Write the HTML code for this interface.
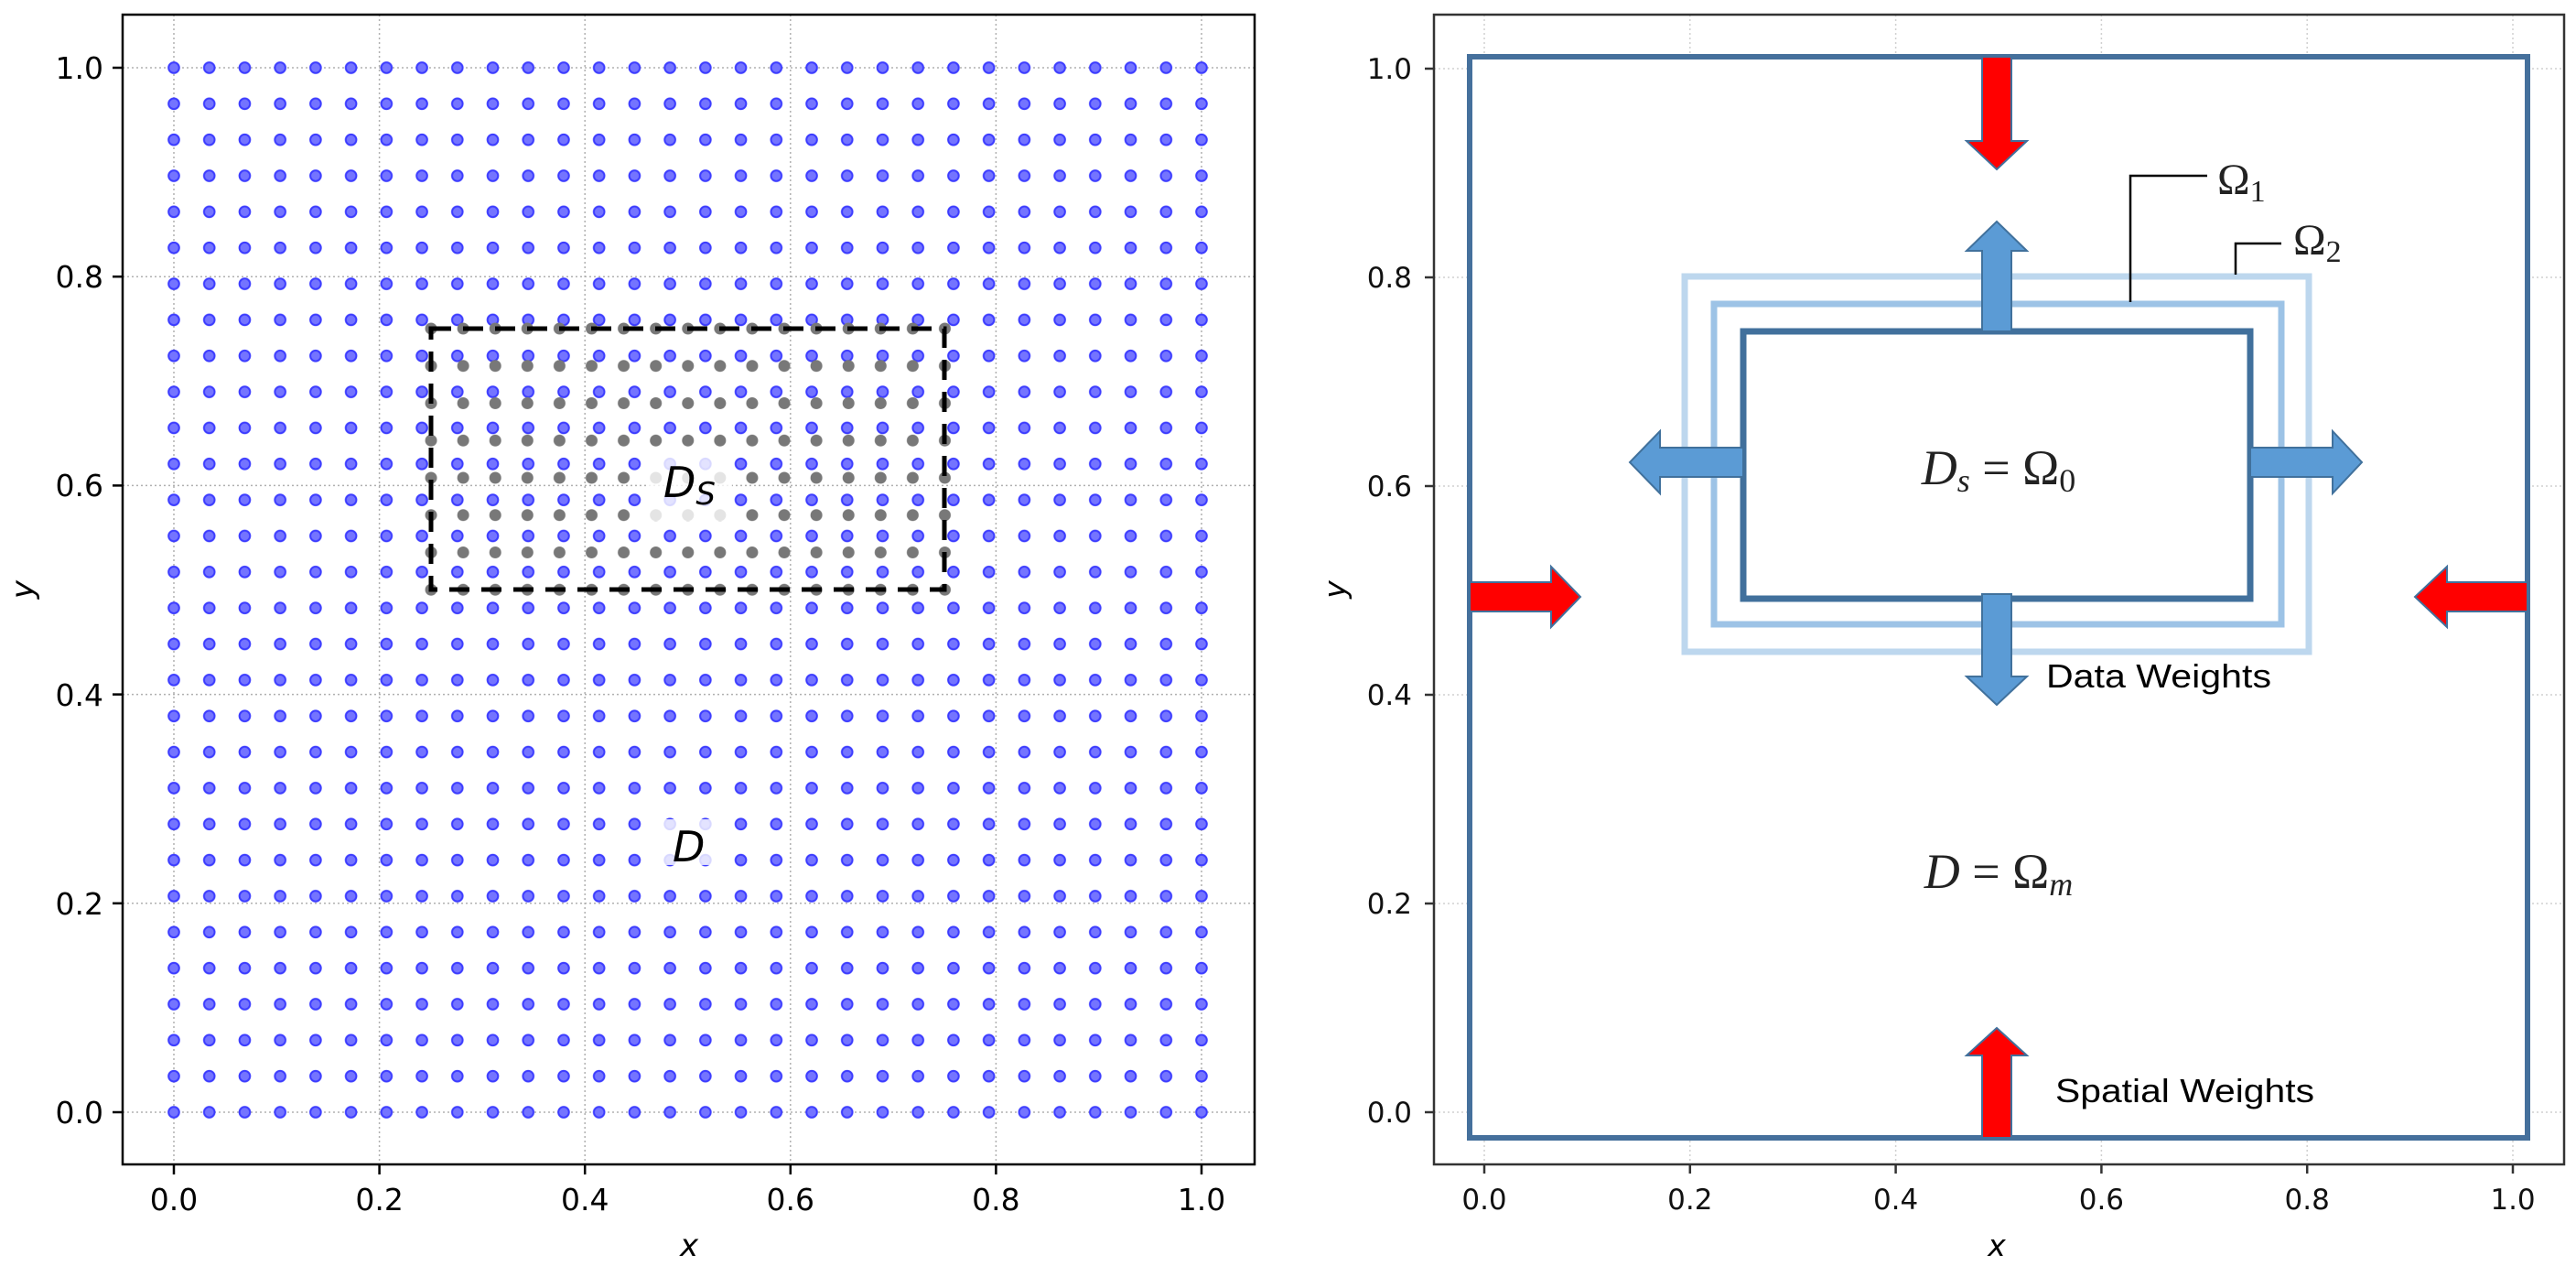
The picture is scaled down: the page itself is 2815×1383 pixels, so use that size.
<!DOCTYPE html>
<html><head><meta charset="utf-8"><style>html,body{margin:0;padding:0;background:#fff}svg{display:block}</style></head>
<body>
<svg width="2815" height="1383" viewBox="0 0 2815 1383" xmlns="http://www.w3.org/2000/svg">
<defs>
<pattern id="bd" patternUnits="userSpaceOnUse" x="170.64" y="54.33" width="38.724" height="39.345">
<circle cx="19.36" cy="19.67" r="5.8" fill="#7474ff" stroke="#3c3cff" stroke-width="2"/>
</pattern>
<pattern id="gd" patternUnits="userSpaceOnUse" x="453.5" y="338.6" width="35.09" height="40.75">
<circle cx="17.55" cy="20.37" r="6.5" fill="#787878"/>
</pattern>
</defs>
<rect width="2815" height="1383" fill="#fff"/>

<!-- LEFT PLOT -->
<g stroke="#b0b0b0" stroke-width="1.5" stroke-dasharray="2,3">
<line x1="190" y1="16" x2="190" y2="1272"/><line x1="414.6" y1="16" x2="414.6" y2="1272"/><line x1="639.2" y1="16" x2="639.2" y2="1272"/><line x1="863.8" y1="16" x2="863.8" y2="1272"/><line x1="1088.4" y1="16" x2="1088.4" y2="1272"/><line x1="1313" y1="16" x2="1313" y2="1272"/>
<line x1="134" y1="1215" x2="1371" y2="1215"/><line x1="134" y1="986.8" x2="1371" y2="986.8"/><line x1="134" y1="758.6" x2="1371" y2="758.6"/><line x1="134" y1="530.4" x2="1371" y2="530.4"/><line x1="134" y1="302.2" x2="1371" y2="302.2"/><line x1="134" y1="74" x2="1371" y2="74"/>
</g>
<rect x="170" y="54" width="1163" height="1181" fill="url(#bd)"/>
<rect x="453" y="338" width="597" height="327" fill="url(#gd)"/>
<rect x="471" y="359" width="561" height="285" fill="none" stroke="#000" stroke-width="5" stroke-dasharray="22,13"/>
<rect x="708" y="497" width="92" height="72" fill="#fff" opacity="0.8"/>
<rect x="725" y="895" width="55" height="50" fill="#fff" opacity="0.8"/>
<text x="725" y="543" font-family="DejaVu Sans, sans-serif" font-style="italic" font-size="46">D<tspan font-size="34" dy="8">S</tspan></text>
<text x="735" y="941" font-family="DejaVu Sans, sans-serif" font-style="italic" font-size="46">D</text>
<rect x="134" y="16" width="1237" height="1256" fill="none" stroke="#000" stroke-width="2.5"/>
<g stroke="#000" stroke-width="2.5">
<line x1="190" y1="1272" x2="190" y2="1283"/><line x1="414.6" y1="1272" x2="414.6" y2="1283"/><line x1="639.2" y1="1272" x2="639.2" y2="1283"/><line x1="863.8" y1="1272" x2="863.8" y2="1283"/><line x1="1088.4" y1="1272" x2="1088.4" y2="1283"/><line x1="1313" y1="1272" x2="1313" y2="1283"/>
<line x1="123" y1="1215" x2="134" y2="1215"/><line x1="123" y1="986.8" x2="134" y2="986.8"/><line x1="123" y1="758.6" x2="134" y2="758.6"/><line x1="123" y1="530.4" x2="134" y2="530.4"/><line x1="123" y1="302.2" x2="134" y2="302.2"/><line x1="123" y1="74" x2="134" y2="74"/>
</g>
<g font-family="DejaVu Sans, sans-serif" font-size="33" fill="#000" text-anchor="middle">
<text x="190" y="1322">0.0</text><text x="414.6" y="1322">0.2</text><text x="639.2" y="1322">0.4</text><text x="863.8" y="1322">0.6</text><text x="1088.4" y="1322">0.8</text><text x="1313" y="1322">1.0</text>
</g>
<g font-family="DejaVu Sans, sans-serif" font-size="33" fill="#000" text-anchor="end">
<text x="113" y="1227">0.0</text><text x="113" y="999">0.2</text><text x="113" y="771">0.4</text><text x="113" y="542">0.6</text><text x="113" y="314">0.8</text><text x="113" y="86">1.0</text>
</g>
<text x="753" y="1372" font-family="DejaVu Sans, sans-serif" font-style="italic" font-size="34" text-anchor="middle">x</text>
<text transform="translate(36,644) rotate(-90)" font-family="DejaVu Sans, sans-serif" font-style="italic" font-size="34" text-anchor="middle">y</text>

<!-- RIGHT PLOT -->
<g stroke="#d0d0d0" stroke-width="1.5" stroke-dasharray="2,3">
<line x1="1622" y1="16" x2="1622" y2="1272"/><line x1="1846.8" y1="16" x2="1846.8" y2="1272"/><line x1="2071.6" y1="16" x2="2071.6" y2="1272"/><line x1="2296.4" y1="16" x2="2296.4" y2="1272"/><line x1="2521.2" y1="16" x2="2521.2" y2="1272"/><line x1="2746" y1="16" x2="2746" y2="1272"/>
<line x1="1567" y1="1215" x2="2802" y2="1215"/><line x1="1567" y1="987" x2="2802" y2="987"/><line x1="1567" y1="759" x2="2802" y2="759"/><line x1="1567" y1="531" x2="2802" y2="531"/><line x1="1567" y1="303" x2="2802" y2="303"/><line x1="1567" y1="75" x2="2802" y2="75"/>
</g>
<rect x="1606" y="62" width="1156" height="1181" fill="#fff" stroke="#45709c" stroke-width="6"/>
<rect x="1841" y="302" width="682" height="410" fill="none" stroke="#bdd7ee" stroke-width="7"/>
<rect x="1873" y="332" width="620" height="350" fill="none" stroke="#9dc3e6" stroke-width="7"/>
<rect x="1905" y="362" width="554" height="292" fill="none" stroke="#41709c" stroke-width="7"/>
<g fill="#5b9bd5" stroke="#41719c" stroke-width="2" stroke-linejoin="miter">
<polygon points="2166,362 2166,274 2149,274 2182,242 2215,274 2198,274 2198,362"/>
<polygon points="2166,649 2166,739 2149,739 2182,770 2215,739 2198,739 2198,649"/>
<polygon points="1905,489 1814,489 1814,471 1781,505 1814,539 1814,521 1905,521"/>
<polygon points="2459,489 2549,489 2549,471 2581,505 2549,539 2549,521 2459,521"/>
</g>
<g fill="#ff0000" stroke="#41709c" stroke-width="2">
<polygon points="2166,62 2166,154 2149,154 2182,185 2215,154 2198,154 2198,62"/>
<polygon points="2166,1243 2166,1153 2149,1153 2182,1123 2215,1153 2198,1153 2198,1243"/>
<polygon points="1606,636 1695,636 1695,619 1727,652 1695,685 1695,668 1606,668"/>
<polygon points="2762,636 2674,636 2674,619 2639,652 2674,685 2674,668 2762,668"/>
</g>
<polyline points="2412,192 2328,192 2328,330" fill="none" stroke="#000" stroke-width="2.5"/>
<polyline points="2493,266 2443,266 2443,300" fill="none" stroke="#000" stroke-width="2.5"/>
<g font-family="Liberation Serif, DejaVu Serif, serif" fill="#222">
<text x="2423" y="212" font-size="48">Ω<tspan font-size="34" dy="8">1</tspan></text>
<text x="2506" y="278" font-size="48">Ω<tspan font-size="34" dy="8">2</tspan></text>
<text x="2184" y="529" font-size="54" text-anchor="middle"><tspan font-style="italic">D</tspan><tspan font-style="italic" font-size="36" dy="8">s</tspan><tspan dy="-8"> = Ω</tspan><tspan font-size="36" dy="8">0</tspan></text>
<text x="2184" y="970" font-size="54" text-anchor="middle"><tspan font-style="italic">D</tspan> = Ω<tspan font-style="italic" font-size="36" dy="8">m</tspan></text>
</g>
<g font-family="Liberation Sans, DejaVu Sans, sans-serif" fill="#000" font-size="36">
<text x="2236" y="751" textLength="246" lengthAdjust="spacingAndGlyphs">Data Weights</text>
<text x="2246" y="1204" textLength="283" lengthAdjust="spacingAndGlyphs">Spatial Weights</text>
</g>
<rect x="1567" y="16" width="1235" height="1256" fill="none" stroke="#333" stroke-width="2.5"/>
<g stroke="#333" stroke-width="2.5">
<line x1="1622" y1="1272" x2="1622" y2="1282"/><line x1="1846.8" y1="1272" x2="1846.8" y2="1282"/><line x1="2071.6" y1="1272" x2="2071.6" y2="1282"/><line x1="2296.4" y1="1272" x2="2296.4" y2="1282"/><line x1="2521.2" y1="1272" x2="2521.2" y2="1282"/><line x1="2746" y1="1272" x2="2746" y2="1282"/>
<line x1="1557" y1="1215" x2="1567" y2="1215"/><line x1="1557" y1="987" x2="1567" y2="987"/><line x1="1557" y1="759" x2="1567" y2="759"/><line x1="1557" y1="531" x2="1567" y2="531"/><line x1="1557" y1="303" x2="1567" y2="303"/><line x1="1557" y1="75" x2="1567" y2="75"/>
</g>
<g font-family="DejaVu Sans, sans-serif" font-size="31" fill="#111" text-anchor="middle">
<text x="1622" y="1321">0.0</text><text x="1846.8" y="1321">0.2</text><text x="2071.6" y="1321">0.4</text><text x="2296.4" y="1321">0.6</text><text x="2521.2" y="1321">0.8</text><text x="2746" y="1321">1.0</text>
</g>
<g font-family="DejaVu Sans, sans-serif" font-size="31" fill="#111" text-anchor="end">
<text x="1543" y="1226">0.0</text><text x="1543" y="998">0.2</text><text x="1543" y="770">0.4</text><text x="1543" y="542">0.6</text><text x="1543" y="314">0.8</text><text x="1543" y="86">1.0</text>
</g>
<text x="2182" y="1372" font-family="DejaVu Sans, sans-serif" font-style="italic" font-size="33" text-anchor="middle">x</text>
<text transform="translate(1470,644) rotate(-90)" font-family="DejaVu Sans, sans-serif" font-style="italic" font-size="33" text-anchor="middle">y</text>
</svg>
</body></html>
